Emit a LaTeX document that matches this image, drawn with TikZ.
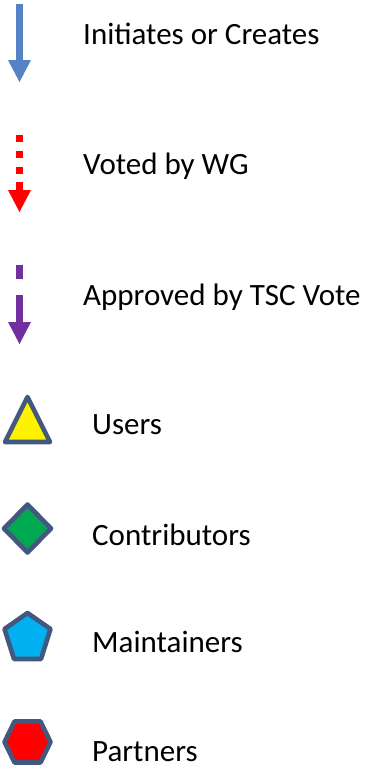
\documentclass[tikz,border=0pt]{standalone}
\usepackage{fontspec}
\setmainfont{Carlito}
\begin{document}
\begin{tikzpicture}[x=1pt,y=-1pt,
  lbl/.style={anchor=base west,inner sep=0pt,font=\fontsize{31}{35}\selectfont},
  shp/.style={draw=edgeblue,line width=4.6pt,line join=round}]
\definecolor{edgeblue}{RGB}{66,88,126}
\definecolor{arrblue}{RGB}{84,130,196}
\definecolor{arrpurple}{RGB}{112,48,160}
\definecolor{greenfill}{RGB}{0,168,80}
\definecolor{cyanfill}{RGB}{0,176,240}
\useasboundingbox[fill=white] (0,0) rectangle (372,771);
% blue solid arrow
\fill[arrblue] (16,4) rectangle (23,61);
\fill[arrblue] (8,60) -- (31,60) -- (19.5,82) -- cycle;
% red dotted arrow
\fill[red] (16,135) rectangle (23,142);
\fill[red] (16,151) rectangle (23,158);
\fill[red] (16,167) rectangle (23,174);
\fill[red] (16,182) rectangle (23,191);
\fill[red] (8,190) -- (31,190) -- (19.5,212) -- cycle;
% purple dashed arrow
\fill[arrpurple] (16,265) rectangle (23,279);
\fill[arrpurple] (16,295) rectangle (23,323);
\fill[arrpurple] (8,322) -- (31,322) -- (19.5,344) -- cycle;
% shapes
\filldraw[shp,fill=yellow] (27.5,397) -- (5,442) -- (50,442) -- cycle;
\filldraw[shp,fill=greenfill] (27.5,504.5) -- (51,528.5) -- (27.5,552.5) -- (4,528.5) -- cycle;
\filldraw[shp,fill=cyanfill] (27.5,613) -- (50.5,629) -- (41,659) -- (14,659) -- (4.5,629) -- cycle;
\filldraw[shp,fill=red] (14.5,721.5) -- (40.5,721.5) -- (50.5,742) -- (40.5,762.5) -- (14.5,762.5) -- (4.5,742) -- cycle;
% labels
\node[lbl] (t1) at (83,44) {Initiates or Creates};
\node[lbl] (t2) at (83,174) {Voted by WG};
\node[lbl] (t3) at (83,305) {Approved by TSC Vote};
\node[lbl] (t4) at (92,434) {Users};
\node[lbl] (t5) at (92,545) {Contributors};
\node[lbl] (t6) at (92,652) {Maintainers};
\node[lbl] (t7) at (92,761) {Partners};
\end{tikzpicture}
\end{document}
